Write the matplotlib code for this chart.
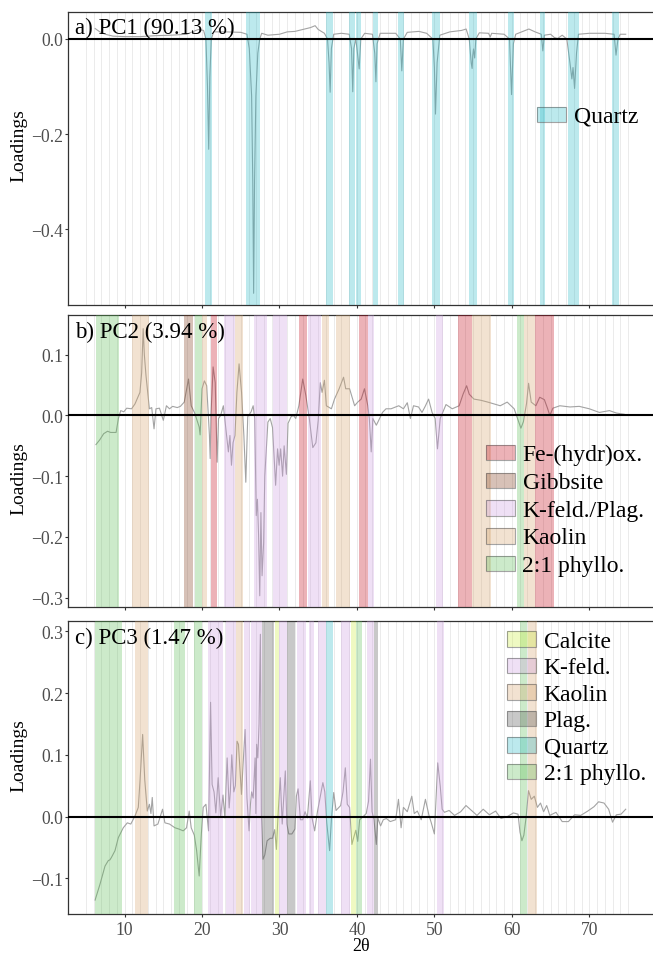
import numpy as np
import matplotlib.pyplot as plt
from matplotlib.patches import Rectangle
from matplotlib.ticker import FuncFormatter

plt.rcParams['font.family'] = ['Liberation Serif', 'DejaVu Serif']

W, H = 653, 954

# ---- PC loadings ----
pc1_x = [6.2, 6.8, 7.5, 8.5, 10, 12, 14, 16, 18, 19.5, 20.2, 20.5, 20.7, 20.86, 21.0, 21.2, 21.5,
         23, 25, 25.8, 26.1, 26.4, 26.55, 26.66, 26.78, 26.95, 27.2, 27.45, 27.7, 28.5, 30, 31,
         32, 33, 34, 34.6, 35, 35.8, 36.2, 36.4, 36.54, 36.7, 37, 38, 39, 39.3, 39.46, 39.6,
         39.85, 40.0, 40.29, 40.5, 41, 42, 42.3, 42.45, 42.6, 43, 45, 45.6, 45.79, 46.0, 46.5,
         48, 49, 49.8, 50.0, 50.14, 50.35, 50.7, 52, 53.5, 54.1, 54.5, 54.75, 54.87, 54.95,
         55.05, 55.2, 55.35, 55.8, 57, 57.2, 57.4, 59, 59.7, 59.96, 60.2, 60.5, 62.2, 63, 63.8,
         64.0, 64.2, 65, 65.5, 65.9, 66.5, 67.1, 67.5, 67.75, 67.9, 68.1, 68.35, 68.6, 70, 72,
         73.2, 73.45, 73.7, 74.0, 74.7]
pc1_y = [0.022, 0.015, 0.01, 0.006, 0.005, 0.005, 0.007, 0.008, 0.01, 0.02, 0.018, 0.0, -0.1,
         -0.232, -0.08, 0.0, 0.015, 0.015, 0.014, 0.01, -0.02, -0.12, -0.3, -0.535, -0.3, -0.12,
         -0.03, 0.0, 0.012, 0.008, 0.01, 0.015, 0.016, 0.02, 0.024, 0.028, 0.02, 0.012, 0.0,
         -0.05, -0.112, -0.02, 0.01, 0.012, 0.01, -0.02, -0.111, -0.02, 0.0, -0.02, -0.063, 0.0,
         0.012, 0.01, -0.03, -0.09, -0.01, 0.012, 0.012, 0.0, -0.067, 0.0, 0.014, 0.016, 0.012,
         0.0, -0.06, -0.158, -0.05, 0.008, 0.015, 0.018, 0.021, 0.0, -0.05, -0.062, -0.035,
         -0.021, -0.04, 0.0, 0.013, 0.012, 0.004, 0.012, 0.01, 0.0, -0.117, -0.01, 0.01, 0.021,
         0.015, 0.01, -0.025, 0.008, 0.01, 0.003, 0.001, 0.008, 0.0, -0.05, -0.084, -0.06,
         -0.104, -0.03, 0.01, 0.012, 0.012, 0.01, -0.034, 0.0, 0.01, 0.01]

pc2_x = [6.3, 6.8, 7.3, 7.8, 8.2, 8.9, 9.2, 9.5, 9.9, 10.27, 10.9, 11.34, 11.98, 12.2, 12.4,
         12.55, 12.76, 13.2, 13.5, 13.8, 14.05, 14.5, 15.0, 15.4, 15.8, 16.2, 16.8, 17.2, 17.7,
         18.25, 18.6, 19.05, 19.63, 19.75, 20.0, 20.3, 20.6, 20.95, 21.05, 21.15, 21.43, 21.7,
         21.95, 22.13, 22.4, 22.75, 23.16, 23.4, 23.6, 23.8, 24.0, 24.25, 24.5, 24.78, 25.1,
         25.4, 25.65, 25.9, 26.33, 26.6, 26.8, 27.0, 27.15, 27.3, 27.45, 27.6, 27.75, 27.95,
         28.1, 28.3, 28.5, 28.8, 29.1, 29.5, 29.75, 29.95, 30.15, 30.4, 30.6, 30.89, 31.1, 31.5,
         31.8, 32.1, 32.5, 33.0, 33.4, 33.85, 34.3, 34.7, 35.0, 35.27, 35.5, 35.8, 36.05, 36.7,
         37.1, 37.7, 38.27, 38.55, 39.05, 39.7, 40.1, 40.55, 40.97, 41.4, 41.6, 41.84, 42.05,
         42.5, 42.7, 43.3, 43.75, 44.4, 45.0, 45.4, 46.0, 46.5, 46.9, 47.3, 47.95, 48.4, 48.85,
         49.25, 49.7, 50.1, 50.4, 50.75, 51.5, 52.3, 53.2, 53.7, 54.16, 54.5, 55.1, 56.0, 56.9,
         57.7, 58.5, 59.4, 60.3, 61.17, 61.5, 61.9, 62.16, 62.5, 63.1, 63.6, 64.2, 64.6, 64.9,
         65.3, 66.2, 67.5, 68.7, 70.0, 71.3, 72.6, 73.5, 74.5]
pc2_y = [-0.048, -0.04, -0.03, -0.026, -0.028, -0.028, -0.005, 0.008, 0.006, 0.012, 0.011,
         0.019, 0.038, 0.07, 0.143, 0.1, 0.066, 0.011, 0.013, -0.022, 0.011, 0.012, -0.008,
         0.016, 0.011, 0.015, 0.013, 0.015, 0.022, 0.06, 0.016, 0.004, -0.019, -0.032, 0.044,
         0.057, 0.049, -0.032, -0.071, 0.0, 0.08, 0.054, -0.077, -0.005, 0.0, 0.016, -0.033,
         -0.06, -0.033, -0.082, -0.045, -0.033, 0.038, 0.085, 0.038, -0.033, -0.11, -0.002,
         0.006, 0.016, -0.005, -0.165, -0.138, -0.198, -0.297, -0.16, -0.264, -0.21, -0.1,
         -0.055, -0.011, -0.005, -0.02, -0.115, -0.055, -0.082, -0.055, -0.1, -0.05, -0.097,
         -0.013, -0.002, 0.0, -0.005, 0.016, 0.06, 0.033, -0.005, -0.053, -0.045, -0.008, 0.054,
         0.038, 0.058, 0.016, 0.011, 0.027, 0.044, 0.063, 0.044, 0.044, 0.016, 0.022, 0.027,
         0.044, 0.016, -0.005, -0.06, -0.005, -0.016, -0.011, 0.005, 0.011, 0.011, 0.014, 0.016,
         0.011, 0.021, -0.005, 0.016, 0.014, 0.005, 0.016, 0.027, 0.005, -0.005, -0.055, -0.005,
         0.018, 0.011, 0.016, 0.035, 0.049, 0.035, 0.027, 0.025, 0.022, 0.019, 0.016, 0.022,
         0.011, -0.021, -0.01, 0.02, 0.053, 0.022, 0.016, 0.03, 0.026, 0.012, 0.0, 0.012, 0.016,
         0.014, 0.015, 0.011, 0.005, 0.008, 0.004, 0.002]

pc3_x = [6.19, 6.83, 7.47, 7.9, 8.1, 8.3, 8.76, 9.19, 9.83, 10.35, 10.8, 11.34, 11.77, 12.0,
         12.33, 12.6, 12.93, 13.2, 13.4, 13.57, 13.8, 14.3, 14.9, 15.2, 15.8, 16.5, 17.0, 17.57,
         18.0, 18.34, 18.6, 19.0, 19.3, 19.63, 19.9, 20.15, 20.5, 20.84, 21.1, 21.3, 21.55,
         21.78, 22.08, 22.4, 22.7, 22.95, 23.24, 23.5, 23.65, 23.84, 24.1, 24.3, 24.52, 24.7,
         25.09, 25.3, 25.56, 25.8, 26.07, 26.25, 26.4, 26.6, 26.85, 26.95, 27.05, 27.2, 27.36,
         27.53, 27.66, 27.87, 28.1, 28.4, 28.8, 29.1, 29.38, 29.6, 29.8, 30.1, 30.35, 30.75,
         30.95, 31.2, 31.6, 32.0, 32.18, 32.4, 32.7, 33.0, 33.3, 33.6, 33.98, 34.2, 34.54, 34.9,
         35.4, 35.6, 35.85, 36.1, 36.47, 36.7, 37.0, 37.3, 37.6, 37.9, 38.2, 38.5, 38.75, 39.05,
         39.35, 39.6, 39.85, 40.1, 40.35, 40.8, 41.2, 41.5, 41.75, 41.95, 42.2, 42.5, 42.7,
         43.05, 43.4, 43.8, 44.3, 45.0, 45.36, 45.7, 46.0, 46.5, 47.08, 47.4, 47.8, 48.3, 48.84,
         49.3, 49.6, 50.0, 50.43, 50.75, 51.0, 51.3, 51.9, 52.6, 53.4, 54.08, 54.8, 55.5, 56.3,
         57.1, 57.9, 58.6, 59.4, 60.2, 60.8, 61.05, 61.3, 61.55, 61.85, 62.15, 62.5, 62.9, 63.3,
         63.7, 64.1, 64.5, 64.9, 65.7, 66.5, 67.3, 68.1, 68.9, 69.8, 70.6, 71.2, 71.9, 72.5,
         73.0, 73.5, 74.1, 74.7]
pc3_y = [-0.135, -0.109, -0.08, -0.071, -0.07, -0.066, -0.055, -0.034, -0.018, -0.01, -0.012,
         0.001, 0.015, 0.06, 0.133, 0.06, 0.009, 0.02, 0.005, 0.031, -0.015, -0.012, 0.012,
         -0.01, -0.012, -0.018, -0.02, -0.023, -0.018, 0.009, -0.018, -0.03, -0.055, -0.096,
         -0.03, 0.015, 0.02, -0.023, 0.185, 0.052, 0.04, 0.006, 0.063, 0.0, 0.035, -0.002, 0.095,
         0.014, 0.04, 0.1, 0.04, 0.05, 0.122, 0.117, 0.036, 0.085, 0.141, 0.03, -0.023, 0.02,
         0.04, 0.03, 0.095, 0.005, 0.117, 0.095, 0.15, 0.295, 0.004, -0.069, -0.062, -0.039,
         -0.035, -0.035, -0.021, -0.053, 0.0, 0.063, -0.012, 0.074, -0.012, -0.028, -0.028,
         -0.02, 0.033, 0.045, -0.005, -0.005, 0.008, -0.002, 0.058, -0.002, -0.023, 0.008, 0.042,
         0.055, 0.04, -0.01, -0.055, -0.005, 0.039, 0.01, 0.014, 0.018, 0.04, 0.079, 0.02, 0.015,
         -0.045, -0.033, -0.022, -0.04, -0.005, 0.0, 0.005, 0.025, 0.093, 0.008, -0.005, -0.045,
         -0.002, -0.015, -0.005, -0.003, -0.008, -0.005, 0.028, -0.018, 0.015, 0.008, 0.033,
         0.005, 0.009, -0.005, 0.028, 0.002, -0.01, -0.028, 0.087, 0.05, 0.012, 0.007, 0.01,
         0.002, 0.008, 0.018, 0.01, 0.002, 0.012, 0.003, 0.009, -0.003, 0.0, 0.006, 0.004,
         -0.025, -0.039, -0.03, 0.0, 0.042, 0.028, 0.033, 0.015, 0.022, 0.008, 0.018, 0.002,
         0.007, -0.008, -0.008, 0.003, 0.002, 0.009, 0.016, 0.024, 0.022, 0.012, -0.009, 0.003,
         0.004, 0.012]

# ---- mineral peak bands (mineral, from, to) in degrees 2theta ----
pc1_bands = [("Quartz", 20.36, 21.26), ("Quartz", 25.64, 27.45), ("Quartz", 36.05, 36.9),
             ("Quartz", 38.96, 39.73), ("Quartz", 39.91, 40.55), ("Quartz", 42.05, 42.69),
             ("Quartz", 45.36, 46.1), ("Quartz", 49.65, 50.73), ("Quartz", 54.5, 55.5),
             ("Quartz", 59.45, 60.31), ("Quartz", 63.66, 64.3), ("Quartz", 67.3, 68.7),
             ("Quartz", 72.98, 73.84)]
pc2_bands = [("2:1 phyllo.", 6.32, 9.28), ("Kaolin", 11.0, 13.1), ("Gibbsite", 17.7, 18.85),
             ("2:1 phyllo.", 19.07, 19.94), ("Kaolin", 19.94, 20.66),
             ("Fe-(hydr)ox.", 21.15, 21.95), ("K-feld./Plag.", 22.8, 24.2),
             ("Kaolin", 24.3, 25.3), ("K-feld./Plag.", 26.67, 28.4),
             ("K-feld./Plag.", 29.1, 30.97), ("Fe-(hydr)ox.", 32.47, 33.55),
             ("K-feld./Plag.", 33.67, 35.4), ("Kaolin", 35.45, 36.45), ("Kaolin", 37.35, 39.05),
             ("Fe-(hydr)ox.", 40.25, 41.4), ("K-feld./Plag.", 41.4, 42.14),
             ("K-feld./Plag.", 50.2, 51.07), ("Fe-(hydr)ox.", 53.1, 54.9), ("Kaolin", 54.9, 57.3),
             ("2:1 phyllo.", 60.7, 61.6), ("Kaolin", 61.6, 63.0), ("Fe-(hydr)ox.", 63.0, 65.44)]
pc3_bands = [("2:1 phyllo.", 6.19, 9.62), ("Kaolin", 11.34, 13.05), ("2:1 phyllo.", 16.37, 17.78),
             ("2:1 phyllo.", 18.94, 20.01), ("K-feld.", 20.8, 21.87), ("K-feld.", 21.97, 22.75),
             ("K-feld.", 23.05, 24.38), ("Kaolin", 24.44, 25.3), ("K-feld.", 25.42, 26.2),
             ("K-feld.", 26.35, 27.7), ("Plag.", 27.75, 29.3), ("Calcite", 29.38, 29.94),
             ("K-feld.", 30.0, 31.0), ("Plag.", 31.0, 32.05), ("K-feld.", 32.2, 33.45),
             ("K-feld.", 33.8, 34.5), ("K-feld.", 34.95, 35.95), ("Quartz", 35.95, 36.9),
             ("K-feld.", 37.9, 39.05), ("Calcite", 39.2, 39.9), ("2:1 phyllo.", 39.9, 40.68),
             ("K-feld.", 41.28, 42.18), ("Plag.", 42.18, 42.78), ("K-feld.", 50.3, 51.2),
             ("2:1 phyllo.", 61.08, 61.95), ("Kaolin", 62.15, 63.3)]

pc1_legend = ["Quartz"]
pc2_legend = ["Fe-(hydr)ox.", "Gibbsite", "K-feld./Plag.", "Kaolin", "2:1 phyllo."]
pc3_legend = ["Calcite", "K-feld.", "Kaolin", "Plag.", "Quartz", "2:1 phyllo."]

band_alpha = 0.3
colours = {
    "Quartz": "#23b9c6",
    "Fe-(hydr)ox.": "#c30012",
    "Gibbsite": "#7d3412",
    "K-feld./Plag.": "#cd9be1",
    "K-feld.": "#cd9be1",
    "Kaolin": "#d4a269",
    "2:1 phyllo.": "#58bc52",
    "Calcite": "#caee37",
    "Plag.": "#4b4b4b",
}


def fx(px):
    return px / W


def fy(py):
    return 1 - py / H


def tick_fmt(v, pos):
    return f"{v:.1f}".replace("-", "\u2212")


fig = plt.figure(figsize=(W / 100, H / 100), dpi=100)

panels = [
    # (top px, bottom px, x, y, bands, legend, title, ylim, yticks, label y px, legend left, first row, pitch)
    (13.0, 305.7, pc1_x, pc1_y, pc1_bands, pc1_legend, "a) PC1 (90.13 %)", (-0.559, 0.0568),
     [-0.4, -0.2, 0.0], 146, 537.3, 115.3, 27.8),
    (316.3, 608.3, pc2_x, pc2_y, pc2_bands, pc2_legend, "b) PC2 (3.94 %)", (-0.316, 0.165),
     [-0.3, -0.2, -0.1, 0.0, 0.1], 479, 486.0, 453.5, 27.8),
    (622.3, 915.0, pc3_x, pc3_y, pc3_bands, pc3_legend, "c) PC3 (1.47 %)", (-0.1575, 0.316),
     [-0.1, 0.0, 0.1, 0.2, 0.3], 756, 507.3, 640.0, 26.5),
]

left_px, right_px = 68.3, 653.5
for i, (top, bot, xs, ys, bands, leg, title, ylim, yt, lab_y, leg_x, leg_y0, pitch) in enumerate(panels):
    ax = fig.add_axes([fx(left_px), fy(bot), fx(right_px - left_px), (bot - top) / H])
    ax.set_xlim(2.731, 78.29)
    ax.set_ylim(*ylim)

    ax.vlines(np.arange(5, 76), ylim[0], ylim[1], color="#ebebeb", lw=0.7, zorder=1)
    ax.plot(xs, ys, color="#a3a3a3", lw=0.8, zorder=2)
    for name, x0, x1 in bands:
        ax.axvspan(x0, x1, color=colours[name], alpha=band_alpha, lw=0, zorder=3)
    ax.axhline(0, color="black", lw=1.5, zorder=4)

    ax.set_yticks(yt)
    ax.yaxis.set_major_formatter(FuncFormatter(tick_fmt))
    ax.set_xticks([10, 20, 30, 40, 50, 60, 70])
    ax.tick_params(direction="out", length=2.4, width=0.8, color="#333333",
                   labelcolor="#4d4d4d", labelsize=12.7, pad=1.5)
    ax.tick_params(axis="x", pad=2.5)
    if i < 2:
        ax.tick_params(axis="x", labelbottom=False)
    for s in ax.spines.values():
        s.set_color("#333333")
        s.set_linewidth(0.9)

    fig.text(fx(left_px + 7), fy(top + 21.5), title, fontsize=16.5, va="baseline", ha="left")
    fig.text(fx(19), fy(lab_y), "Loadings", fontsize=14, rotation=90, va="center", ha="center")

    # legend drawn as keys + labels
    kw, kh = 28.7, 15.5
    for j, name in enumerate(leg):
        yc = leg_y0 + j * pitch
        fig.patches.append(Rectangle((fx(leg_x), fy(yc + kh / 2)), kw / W, kh / H,
                                     transform=fig.transFigure, facecolor=colours[name],
                                     alpha=band_alpha, lw=0))
        fig.patches.append(Rectangle((fx(leg_x), fy(yc + kh / 2)), kw / W, kh / H,
                                     transform=fig.transFigure, facecolor="none",
                                     edgecolor=(0.35, 0.35, 0.35, 0.55), lw=0.8))
        fig.text(fx(leg_x + 36.5), fy(yc + 7.6), name, fontsize=17, va="baseline", ha="left")

fig.text(fx(361), fy(951), "2θ", fontsize=13, ha="center", va="baseline")

fig.savefig("out.png", dpi=100)
